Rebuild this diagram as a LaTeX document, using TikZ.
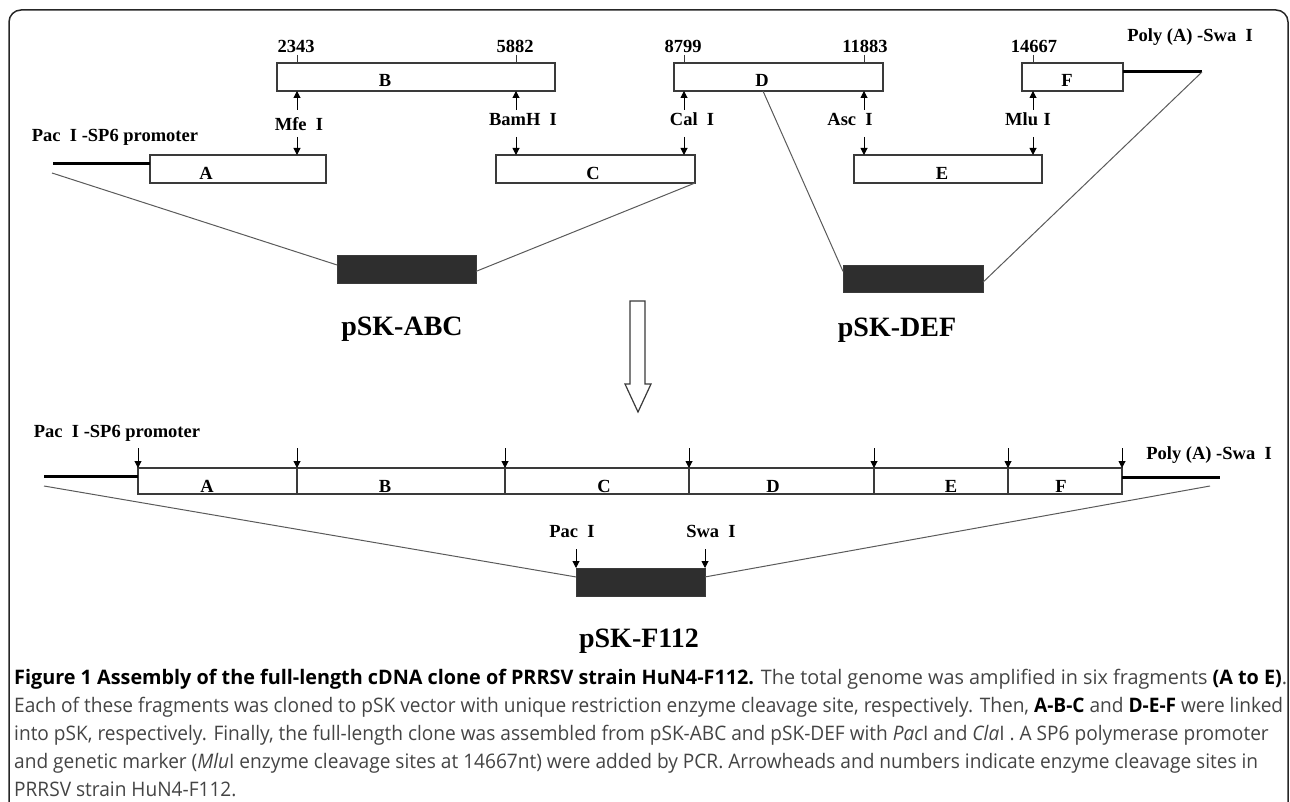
\documentclass[tikz,border=0pt]{standalone}
\usepackage{fontspec}
\usepackage{graphicx}
\setmainfont{Liberation Serif}
\newfontfamily\capfont[FakeStretch=0.8]{Open Sans}
\usetikzlibrary{arrows.meta,calc}
\definecolor{boxline}{HTML}{3A3A3A}
\definecolor{tiecol}{HTML}{5A5A5A}
\definecolor{blk}{HTML}{2E2E2E}
\definecolor{captxt}{HTML}{444444}
\newcommand{\RomI}{\hspace{0.5em}I}
\newcommand{\capsize}{\capfont\fontsize{20}{20}\selectfont}
\newcommand{\lineTwo}{Each of these fragments was cloned to pSK vector with unique restriction enzyme cleavage site, respectively. Then, \textbf{\color{black}A-B-C} and \textbf{\color{black}D-E-F} were linked}
\newsavebox\measurebox
\begin{document}
\sbox\measurebox{\capsize\lineTwo}%
\pgfmathsetmacro\capsx{1269/\wd\measurebox}%
\newcommand{\capline}[1]{\scalebox{\capsx}[1]{#1}}%
\begin{tikzpicture}[x=1pt,y=-1pt,
 frag/.style={draw=boxline,line width=1.1pt,inner sep=0pt,outer sep=0pt,anchor=north west},
 blkbox/.style={draw=boxline,fill=blk,line width=1pt,inner sep=0pt,outer sep=0pt,anchor=north west},
 lab/.style={font=\fontsize{18.5}{18.5}\selectfont\bfseries,anchor=base,inner sep=0pt},
 big/.style={font=\fontsize{28}{28}\selectfont\bfseries,anchor=base,inner sep=0pt},
 cut/.style={-{Triangle[length=7pt,width=7pt]},line width=1pt,black},
 heavy/.style={line width=3pt,black},
 tie/.style={line width=1pt,tiecol},
 tick/.style={line width=1pt,boxline},
 capl/.style={anchor=base west,inner sep=0pt,font=\capsize,text=captxt}]
\useasboundingbox (0,0) rectangle (1290,802);
% frame
\draw[line width=1.5pt,black!85,rounded corners=12pt] (9,802) -- (9,10) -- (1288,10) -- (1288,802);

% ---- top fragments
\node[frag,minimum width=176pt,minimum height=28pt] (A) at (150,155) {};
\node[frag,minimum width=278pt,minimum height=28pt] (B) at (277,63) {};
\node[frag,minimum width=199pt,minimum height=28pt] (C) at (496,155) {};
\node[frag,minimum width=209pt,minimum height=28pt] (D) at (674,63) {};
\node[frag,minimum width=188pt,minimum height=28pt] (E) at (854,155) {};
\node[frag,minimum width=101pt,minimum height=28pt] (F) at (1022,63) {};
\node[lab] (lA) at (206,180) {A};
\node[lab] (lB) at (385,87) {B};
\node[lab] (lC) at (593,180) {C};
\node[lab] (lD) at (762,87) {D};
\node[lab] (lE) at (942,180) {E};
\node[lab] (lF) at (1067,87) {F};

% numbers and ticks
\node[lab] (n1) at (296,53) {2343};
\node[lab] (n2) at (515,53) {5882};
\node[lab] (n3) at (683,53) {8799};
\node[lab] (n4) at (865,53) {11883};
\node[lab] (n5) at (1034,53) {14667};
\coordinate (t1) at (297,55); \draw[tick] (t1) -- (t1 |- B.north);
\coordinate (t2) at (516,55); \draw[tick] (t2) -- (t2 |- B.north);
\coordinate (t3) at (684,55); \draw[tick] (t3) -- (t3 |- D.north);
\coordinate (t4) at (864,55); \draw[tick] (t4) -- (t4 |- D.north);
\coordinate (t5) at (1033,55); \draw[tick] (t5) -- (t5 |- F.north);

% enzyme sites
\coordinate (u1) at (297,110); \coordinate (d1) at (297,137);
\coordinate (u2) at (516,110); \coordinate (d2) at (516,137);
\coordinate (u3) at (684,110); \coordinate (d3) at (684,137);
\coordinate (u4) at (864,110); \coordinate (d4) at (864,137);
\coordinate (u5) at (1033,110); \coordinate (d5) at (1033,137);
\draw[cut] (u1) -- (u1 |- B.south); \draw[cut] (d1) -- (d1 |- A.north);
\draw[cut] (u2) -- (u2 |- B.south); \draw[cut] (d2) -- (d2 |- C.north);
\draw[cut] (u3) -- (u3 |- D.south); \draw[cut] (d3) -- (d3 |- C.north);
\draw[cut] (u4) -- (u4 |- D.south); \draw[cut] (d4) -- (d4 |- E.north);
\draw[cut] (u5) -- (u5 |- F.south); \draw[cut] (d5) -- (d5 |- E.north);
\node[lab] (e1) at (299,131) {Mfe\RomI};
\node[lab] (e2) at (523,126) {BamH\RomI};
\node[lab] (e3) at (692,126) {Cal\RomI};
\node[lab] (e4) at (850,126) {Asc\RomI};
\node[lab] (e5) at (1028,126) {Mlu\hspace{0.3em}I};

% ends
\node[lab] (pac1) at (115,142) {Pac\RomI\hspace{0.25em}-SP6 promoter};
\node[lab] (poly1) at (1190,42) {Poly (A) -Swa\RomI};
\coordinate (pe1) at (53,164); \draw[heavy] (pe1) -- (pe1 -| A.west);
\coordinate (qe1) at (1202,72); \draw[heavy] (qe1 -| F.east) -- (qe1);

% intermediate clones
\node[blkbox,minimum width=139pt,minimum height=28pt] (abc) at (337,256) {};
\node[blkbox,minimum width=140pt,minimum height=27pt] (def) at (843,266) {};
\node[big] (labc) at (402,335) {pSK-ABC};
\node[big] (ldef) at (897,336) {pSK-DEF};
\coordinate (ta) at (52,173);
\draw[tie] (ta) -- ($(abc.north west)!0.32!(abc.south west)$);
\draw[tie] (C.south east) -- ($(abc.north east)!0.55!(abc.south east)$);
\draw[tie] ($(D.south west)+(89,0)$) -- ($(def.north west)!0.2!(def.south west)$);
\draw[tie] (qe1) -- ($(def.north east)!0.6!(def.south east)$);

% hollow arrow
\draw[line width=1.2pt,boxline,fill=white] (630,301) -- (645,301) -- (645,384) -- (651,384) -- (638,412) -- (625,384) -- (630,384) -- cycle;

% ---- full-length bar
\node[frag,minimum width=159pt,minimum height=26pt] (sA) at (138,468) {};
\node[frag,minimum width=208pt,minimum height=26pt] (sB) at (297,468) {};
\node[frag,minimum width=184pt,minimum height=26pt] (sC) at (505,468) {};
\node[frag,minimum width=185pt,minimum height=26pt] (sD) at (689,468) {};
\node[frag,minimum width=134pt,minimum height=26pt] (sE) at (874,468) {};
\node[frag,minimum width=114pt,minimum height=26pt] (sF) at (1008,468) {};
\node[lab] at (207,492) {A};
\node[lab] at (385,492) {B};
\node[lab] at (604,492) {C};
\node[lab] at (773,492) {D};
\node[lab] at (951,492) {E};
\node[lab] at (1061,492) {F};
\foreach \n in {sA.north west,sB.north west,sC.north west,sD.north west,sE.north west,sF.north west,sF.north east}
  \draw[cut] ($(\n)+(0,-20)$) -- (\n);
\node[lab] (pac2) at (117,437) {Pac\RomI\hspace{0.25em}-SP6 promoter};
\node[lab] (poly2) at (1209,459) {Poly (A) -Swa\RomI};
\coordinate (pe2) at (44,476); \draw[heavy] (pe2) -- (pe2 -| sA.west);
\coordinate (qe2) at (1220,477); \draw[heavy] (qe2 -| sF.east) -- (qe2);

\node[blkbox,minimum width=129pt,minimum height=28pt] (f112) at (576,568) {};
\node[big] (lf112) at (639,647) {pSK-F112};
\coordinate (tl) at (44,486); \coordinate (tr) at (1210,486);
\draw[tie] (tl) -- ($(f112.north west)!0.32!(f112.south west)$);
\draw[tie] (tr) -- ($(f112.north east)!0.32!(f112.south east)$);
\draw[cut] ($(f112.north west)+(0,-19)$) -- (f112.north west);
\draw[cut] ($(f112.north east)+(0,-19)$) -- (f112.north east);
\node[lab] (pac3) at (572,537) {Pac\RomI};
\node[lab] (swa3) at (711,537) {Swa\RomI};

% ---- caption
\node[capl] (c1) at (14,684) {\resizebox{1273pt}{\height}{\textbf{\color{black}Figure 1 Assembly of the full-length cDNA clone of PRRSV strain HuN4-F112.} The total genome was amplified in six fragments \textbf{\color{black}(A to E)}.}};
\node[capl] (c2) at (14,712) {\capline{\lineTwo}};
\node[capl] (c3) at (14,740) {\capline{into pSK, respectively. Finally, the full-length clone was assembled from pSK-ABC and pSK-DEF with \textit{Pac}I and \textit{Cla}I . A SP6 polymerase promoter}};
\node[capl] (c4) at (14,768) {\capline{and genetic marker (\textit{Mlu}I enzyme cleavage sites at 14667nt) were added by PCR. Arrowheads and numbers indicate enzyme cleavage sites in}};
\node[capl] (c5) at (14,796) {\capline{PRRSV strain HuN4-F112.}};
\end{tikzpicture}
\end{document}
